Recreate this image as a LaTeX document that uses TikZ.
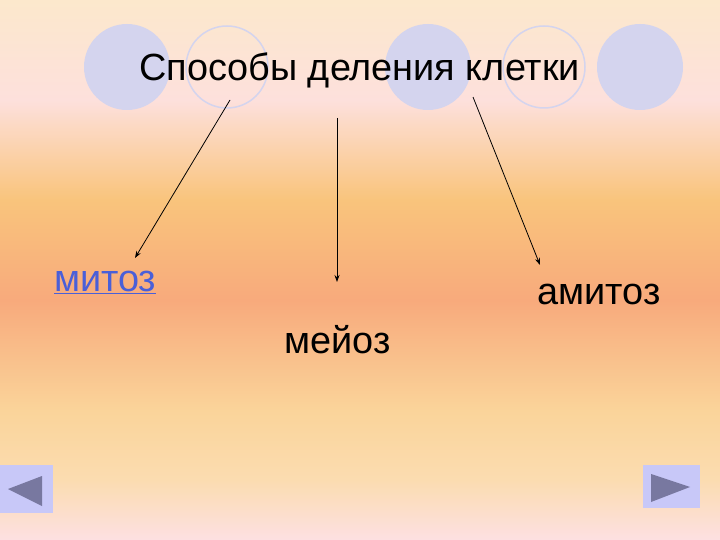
\documentclass[tikz,border=0pt]{standalone}
\usepackage{fontspec}
\setmainfont{Liberation Sans}
\usetikzlibrary{arrows.meta}
\definecolor{bgA}{HTML}{FDE0E2}
\definecolor{bgB}{HTML}{FBDCB0}
\definecolor{bgC}{HTML}{FAD49A}
\definecolor{bgD}{HTML}{F8AA7C}
\definecolor{bgE}{HTML}{F9C47C}
\definecolor{bgF}{HTML}{FDE0DC}
\definecolor{bgG}{HTML}{FCE8CC}
\definecolor{circ}{HTML}{D4D4EE}
\definecolor{btn}{HTML}{C8C8F8}
\definecolor{tri}{HTML}{7878A0}
\definecolor{link}{HTML}{4A5FD8}
\pgfdeclareverticalshading{bgsh}{100bp}{color(0bp)=(bgA); color(25bp)=(bgA); color(30.6bp)=(bgB); color(37bp)=(bgC); color(47.2bp)=(bgD); color(56.5bp)=(bgE); color(65.7bp)=(bgF); color(75bp)=(bgG); color(100bp)=(bgG)}
\tikzset{lbl/.style={font=\fontsize{38}{42}\selectfont, inner sep=0pt, anchor=base west},
arr/.style={-{Stealth[length=7bp,width=5bp]}, line width=0.8bp}}
\begin{document}
\begin{tikzpicture}[x=1bp,y=-1bp]
\shade[shading=bgsh] (0,0) rectangle (720,540);
\useasboundingbox (0,0) rectangle (720,540);
\fill[circ] (127,67) circle (43);
\fill[circ] (428,67) circle (43);
\fill[circ] (640,67) circle (43);
\draw[circ, line width=1.5bp] (227,67) circle (41);
\draw[circ, line width=1.5bp] (544,67) circle (41);
\node[lbl] (title) at (139,81) {Способы деления клетки};
\node[lbl, text=link] (mit) at (54,291) {\underline{митоз}};
\node[lbl] (ami) at (537,304) {амитоз};
\node[lbl] (mei) at (284,353) {мейоз};
\coordinate (s1) at (230,100); \coordinate (e1) at (135,258);
\coordinate (s2) at (337,118); \coordinate (e2) at (337,282);
\coordinate (s3) at (473,97); \coordinate (e3) at (540,265);
\draw[arr] (s1) -- (e1);
\draw[arr] (s2) -- (e2);
\draw[arr] (s3) -- (e3);
\fill[btn] (0,465) rectangle (53,513);
\fill[tri] (8,489) -- (42,476) -- (42,506) -- cycle;
\fill[btn] (643,465) rectangle (700,508);
\fill[tri] (651,474) -- (690,487) -- (651,502) -- cycle;
\end{tikzpicture}
\end{document}
